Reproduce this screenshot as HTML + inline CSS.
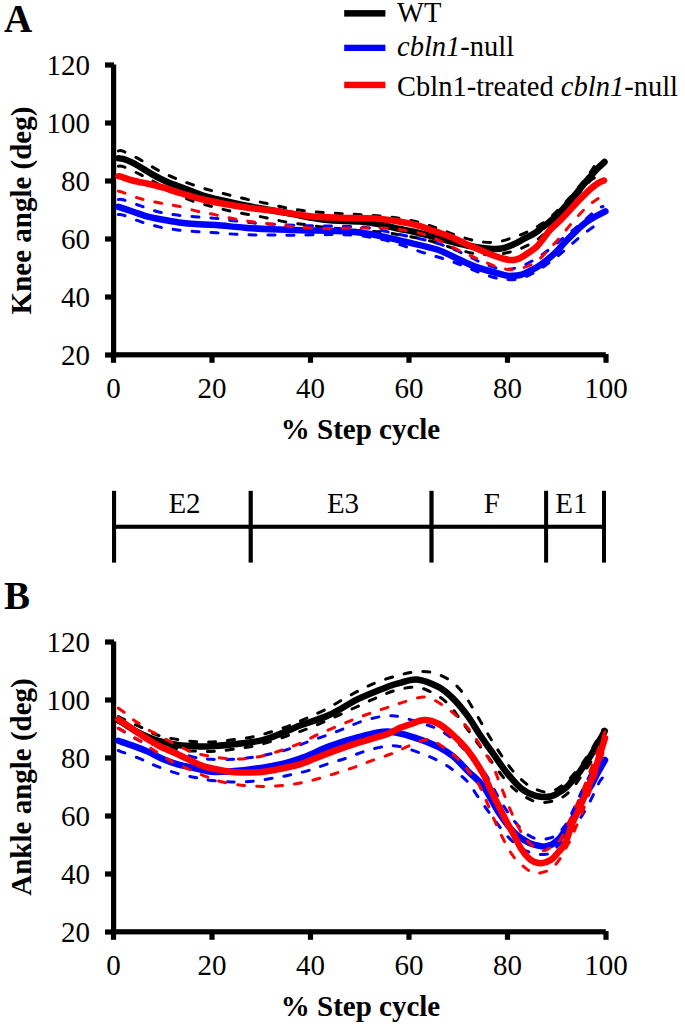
<!DOCTYPE html>
<html><head><meta charset="utf-8"><style>
html,body{margin:0;padding:0;background:#fff;}
svg{display:block;}
.t{font-family:"Liberation Serif",serif;font-size:29px;fill:#000;}
.b{font-family:"Liberation Serif",serif;font-size:29px;font-weight:bold;fill:#000;}
.L{font-family:"Liberation Serif",serif;font-size:39px;font-weight:bold;fill:#000;}
.lg{font-family:"Liberation Serif",serif;font-size:28.5px;fill:#000;}
</style></head><body>
<svg width="685" height="1026" viewBox="0 0 685 1026">
<rect width="685" height="1026" fill="#fff"/>
<text x="4" y="31.8" class="L">A</text>
<text x="4" y="608.9" class="L">B</text>
<!-- legend -->
<rect x="344.2" y="10.1" width="41.2" height="6.5" fill="#000"/>
<rect x="344.2" y="44.7" width="41.2" height="6.3" fill="#00f"/>
<rect x="344.2" y="81.7" width="41.2" height="6.5" fill="#f00"/>
<text x="397" y="21.9" class="lg">WT</text>
<text x="397" y="55.8" class="lg"><tspan font-style="italic">cbln1</tspan>-null</text>
<text x="397" y="95.5" class="lg">Cbln1-treated <tspan font-style="italic">cbln1</tspan>-null</text>
<rect x="111" y="64.5" width="5.2" height="292.8" fill="#000"/>
<rect x="111" y="352.2" width="494.79999999999995" height="5.2" fill="#000"/>
<rect x="105" y="62.4" width="9" height="5.2" fill="#000"/>
<rect x="105" y="120.4" width="9" height="5.2" fill="#000"/>
<rect x="105" y="178.4" width="9" height="5.2" fill="#000"/>
<rect x="105" y="236.4" width="9" height="5.2" fill="#000"/>
<rect x="105" y="294.4" width="9" height="5.2" fill="#000"/>
<rect x="105" y="352.4" width="9" height="5.2" fill="#000"/>
<rect x="110.9" y="354" width="5.2" height="8.800000000000011" fill="#000"/>
<rect x="209.4" y="354" width="5.2" height="8.800000000000011" fill="#000"/>
<rect x="307.9" y="354" width="5.2" height="8.800000000000011" fill="#000"/>
<rect x="406.4" y="354" width="5.2" height="8.800000000000011" fill="#000"/>
<rect x="504.9" y="354" width="5.2" height="8.800000000000011" fill="#000"/>
<rect x="603.4" y="354" width="5.2" height="8.800000000000011" fill="#000"/>
<text x="90" y="74.8" text-anchor="end" class="t">120</text>
<text x="90" y="132.8" text-anchor="end" class="t">100</text>
<text x="90" y="190.8" text-anchor="end" class="t">80</text>
<text x="90" y="248.8" text-anchor="end" class="t">60</text>
<text x="90" y="306.8" text-anchor="end" class="t">40</text>
<text x="90" y="364.8" text-anchor="end" class="t">20</text>
<text x="113.5" y="397.6" text-anchor="middle" class="t">0</text>
<text x="212.0" y="397.6" text-anchor="middle" class="t">20</text>
<text x="310.5" y="397.6" text-anchor="middle" class="t">40</text>
<text x="409.0" y="397.6" text-anchor="middle" class="t">60</text>
<text x="507.5" y="397.6" text-anchor="middle" class="t">80</text>
<text x="606.0" y="397.6" text-anchor="middle" class="t">100</text>
<rect x="111" y="641.5" width="5.2" height="292.8" fill="#000"/>
<rect x="111" y="929.2" width="494.79999999999995" height="5.2" fill="#000"/>
<rect x="105" y="639.4" width="9" height="5.2" fill="#000"/>
<rect x="105" y="697.4" width="9" height="5.2" fill="#000"/>
<rect x="105" y="755.4" width="9" height="5.2" fill="#000"/>
<rect x="105" y="813.4" width="9" height="5.2" fill="#000"/>
<rect x="105" y="871.4" width="9" height="5.2" fill="#000"/>
<rect x="105" y="929.4" width="9" height="5.2" fill="#000"/>
<rect x="110.9" y="931" width="5.2" height="8.800000000000011" fill="#000"/>
<rect x="209.4" y="931" width="5.2" height="8.800000000000011" fill="#000"/>
<rect x="307.9" y="931" width="5.2" height="8.800000000000011" fill="#000"/>
<rect x="406.4" y="931" width="5.2" height="8.800000000000011" fill="#000"/>
<rect x="504.9" y="931" width="5.2" height="8.800000000000011" fill="#000"/>
<rect x="603.4" y="931" width="5.2" height="8.800000000000011" fill="#000"/>
<text x="90" y="651.8" text-anchor="end" class="t">120</text>
<text x="90" y="709.8" text-anchor="end" class="t">100</text>
<text x="90" y="767.8" text-anchor="end" class="t">80</text>
<text x="90" y="825.8" text-anchor="end" class="t">60</text>
<text x="90" y="883.8" text-anchor="end" class="t">40</text>
<text x="90" y="941.8" text-anchor="end" class="t">20</text>
<text x="113.5" y="974.6" text-anchor="middle" class="t">0</text>
<text x="212.0" y="974.6" text-anchor="middle" class="t">20</text>
<text x="310.5" y="974.6" text-anchor="middle" class="t">40</text>
<text x="409.0" y="974.6" text-anchor="middle" class="t">60</text>
<text x="507.5" y="974.6" text-anchor="middle" class="t">80</text>
<text x="606.0" y="974.6" text-anchor="middle" class="t">100</text>
<text class="b" transform="translate(30.7,210.5) rotate(-90)" text-anchor="middle">Knee angle (deg)</text>
<text class="b" transform="translate(30.7,787) rotate(-90)" text-anchor="middle">Ankle angle (deg)</text>
<text class="b" x="360.5" y="439" text-anchor="middle">% Step cycle</text>
<text class="b" x="360.5" y="1016" text-anchor="middle">% Step cycle</text>
<!-- phase bar -->
<rect x="112" y="524.7" width="494" height="4.1" fill="#000"/>
<rect x="112" y="490.8" width="4.1" height="71.8" fill="#000"/>
<rect x="248.6" y="490.8" width="4.2" height="71.8" fill="#000"/>
<rect x="429.4" y="490.8" width="4.2" height="71.8" fill="#000"/>
<rect x="544.1" y="490.8" width="4" height="71.8" fill="#000"/>
<rect x="602" y="490.8" width="4" height="71.8" fill="#000"/>
<text x="184.5" y="513.4" text-anchor="middle" class="t">E2</text>
<text x="343" y="513.4" text-anchor="middle" class="t">E3</text>
<text x="491.8" y="513.4" text-anchor="middle" class="t">F</text>
<text x="571.4" y="513.4" text-anchor="middle" class="t">E1</text>
<path d="M118.4,150.9 C119.2,151.0 119.3,149.7 123.0,151.2 C126.7,152.7 134.9,156.8 140.6,159.9 C146.3,163.0 151.4,166.6 157.0,169.6 C162.6,172.6 168.4,175.3 174.3,177.8 C180.2,180.3 186.3,182.6 192.4,184.7 C198.5,186.8 204.7,188.7 210.8,190.4 C216.9,192.1 223.0,193.5 229.2,195.0 C235.4,196.5 241.8,198.2 248.2,199.6 C254.6,201.0 261.3,202.3 267.6,203.7 C273.9,205.1 279.7,206.6 286.0,207.8 C292.3,209.0 299.0,210.1 305.4,210.9 C311.8,211.7 318.0,212.2 324.4,212.7 C330.8,213.2 337.5,213.4 343.8,213.7 C350.1,214.0 356.0,214.3 362.2,214.7 C368.4,215.1 374.8,215.4 381.2,216.1 C387.6,216.8 394.2,217.5 400.7,218.6 C407.2,219.7 413.9,221.0 420.1,222.7 C426.3,224.4 432.0,226.5 438.1,228.6 C444.2,230.7 450.3,233.3 456.5,235.3 C462.7,237.3 469.1,239.6 475.4,240.8 C481.7,242.0 488.0,243.0 494.3,242.4 C500.6,241.8 507.2,239.5 513.3,237.5 C519.4,235.5 525.1,233.1 530.7,230.2 C536.3,227.3 541.8,224.1 547.0,220.1 C552.2,216.1 557.3,210.8 562.0,206.0 C566.7,201.2 571.1,196.1 575.4,191.0 C579.7,185.9 584.3,180.4 588.0,175.5 C591.7,170.6 595.2,164.6 597.4,161.7 C599.6,158.8 600.4,158.6 601.0,158.0" fill="none" stroke="#000" stroke-width="3" stroke-dasharray="7 12" stroke-linecap="round"/>
<path d="M118.4,166.2 C119.2,166.3 119.5,165.2 123.2,166.6 C126.9,168.0 135.0,171.9 140.6,174.7 C146.2,177.5 151.4,180.4 157.0,183.4 C162.6,186.4 168.3,189.6 174.0,192.5 C179.7,195.4 185.3,198.3 191.4,200.6 C197.5,202.9 204.5,204.5 210.8,206.2 C217.1,207.9 223.0,209.4 229.2,210.8 C235.4,212.2 241.8,213.3 248.2,214.5 C254.6,215.7 261.3,216.7 267.6,218.0 C273.9,219.3 279.7,221.0 286.0,222.1 C292.3,223.2 299.3,223.8 305.4,224.6 C311.5,225.4 316.1,226.3 322.4,227.0 C328.7,227.7 336.2,228.3 343.0,229.0 C349.8,229.7 356.6,230.5 363.2,231.0 C369.8,231.5 376.1,231.2 382.3,231.9 C388.6,232.6 394.4,233.9 400.7,235.0 C407.0,236.1 414.0,237.2 420.1,238.5 C426.2,239.8 431.7,241.4 437.4,243.1 C443.1,244.8 448.1,246.8 454.4,248.5 C460.6,250.2 468.1,252.6 474.9,253.6 C481.7,254.6 488.4,255.0 495.0,254.5 C501.6,254.0 508.1,252.7 514.3,250.8 C520.5,248.9 527.0,245.9 532.1,242.9 C537.2,239.9 540.4,237.5 545.0,233.0 C549.6,228.5 555.0,221.8 560.0,216.0 C565.0,210.2 570.0,203.8 575.0,198.0 C580.0,192.2 586.0,184.8 590.0,181.0 C594.0,177.2 597.0,176.9 599.2,175.4 C601.4,173.9 602.4,172.6 603.0,172.0" fill="none" stroke="#000" stroke-width="3" stroke-dasharray="7 12" stroke-linecap="round"/>
<path d="M118.4,158.2 C119.5,158.4 122.5,158.6 125.1,159.5 C127.7,160.4 131.0,161.9 133.9,163.4 C136.8,164.9 139.8,166.8 142.7,168.6 C145.6,170.3 148.5,172.2 151.4,173.9 C154.3,175.6 157.3,177.2 160.2,178.7 C163.1,180.2 165.4,181.2 169.0,182.7 C172.6,184.2 177.7,185.9 182.0,187.5 C186.3,189.1 191.2,191.1 195.0,192.5 C198.8,193.9 200.8,194.8 205.0,196.0 C209.2,197.2 213.5,198.5 220.0,200.0 C226.5,201.5 237.3,203.8 244.0,205.2 C250.7,206.6 252.3,206.9 260.0,208.3 C267.7,209.7 281.7,212.0 290.0,213.5 C298.3,215.0 303.3,216.4 310.0,217.5 C316.7,218.6 321.7,219.6 330.0,220.3 C338.3,221.0 351.7,220.8 360.0,221.5 C368.3,222.2 373.3,223.2 380.0,224.5 C386.7,225.8 394.2,227.8 400.0,229.0 C405.8,230.2 408.8,230.5 415.0,232.0 C421.2,233.5 430.3,236.1 437.0,237.8 C443.7,239.6 449.5,241.1 455.0,242.5 C460.5,243.9 465.4,245.1 470.0,246.0 C474.6,246.9 478.2,247.5 482.5,248.0 C486.8,248.5 492.1,249.0 495.7,249.0 C499.3,249.0 501.5,248.6 504.4,247.8 C507.3,247.1 510.3,245.8 513.2,244.5 C516.1,243.2 518.3,241.9 521.9,240.0 C525.5,238.1 531.6,235.1 535.0,233.0 C538.4,230.9 539.5,229.4 542.0,227.5 C544.5,225.6 546.5,224.6 550.0,221.5 C553.5,218.4 558.4,214.0 563.0,209.0 C567.6,204.0 573.4,196.8 577.8,191.5 C582.2,186.2 586.1,181.4 589.5,177.5 C592.9,173.6 595.5,170.6 598.0,168.0 C600.5,165.4 603.4,163.0 604.5,162.0" fill="none" stroke="#000" stroke-width="6.5" stroke-linejoin="round" stroke-linecap="round"/>
<path d="M118.4,199.5 C119.2,199.5 119.5,198.7 123.2,199.8 C126.9,200.9 134.6,203.9 140.6,205.9 C146.6,207.9 152.9,210.5 159.0,212.0 C165.1,213.5 171.0,214.3 177.4,215.1 C183.8,215.9 190.9,216.3 197.5,216.9 C204.1,217.5 210.4,217.8 216.9,218.5 C223.4,219.2 229.1,220.2 236.3,221.0 C243.5,221.8 249.4,222.8 260.0,223.5 C270.6,224.2 288.3,225.1 300.0,225.5 C311.7,225.9 320.0,225.8 330.0,226.0 C340.0,226.2 353.0,226.6 360.0,227.0 C367.0,227.4 366.9,227.6 372.0,228.5 C377.1,229.4 384.3,231.1 390.4,232.4 C396.5,233.7 402.7,235.2 408.8,236.5 C414.9,237.8 421.1,238.9 427.2,240.5 C433.3,242.1 439.0,243.7 445.2,246.0 C451.4,248.3 458.5,251.4 464.6,254.2 C470.7,257.0 476.0,260.4 482.0,262.8 C488.0,265.2 494.5,268.0 500.4,268.8 C506.3,269.6 511.7,269.2 517.4,267.7 C523.1,266.1 528.9,262.9 534.7,259.5 C540.5,256.1 546.7,251.4 552.1,247.2 C557.5,243.0 562.6,238.4 567.4,234.5 C572.2,230.6 575.8,227.8 580.7,223.6 C585.6,219.4 593.1,212.4 596.8,209.6 C600.5,206.8 602.0,207.0 603.0,206.5" fill="none" stroke="#00f" stroke-width="3" stroke-dasharray="7 12" stroke-linecap="round"/>
<path d="M118.4,214.6 C119.2,214.7 119.5,213.9 123.2,215.1 C126.9,216.3 134.6,219.7 140.6,221.7 C146.6,223.7 152.9,225.5 159.0,226.9 C165.1,228.3 171.0,229.1 177.4,229.9 C183.8,230.7 190.9,231.2 197.5,231.7 C204.1,232.2 210.4,232.4 216.9,232.8 C223.4,233.2 229.9,234.0 236.3,234.3 C242.7,234.7 248.9,234.8 255.3,234.9 C261.7,235.0 268.2,234.9 274.7,234.9 C281.2,234.9 285.0,235.2 294.2,235.2 C303.4,235.1 320.4,234.6 330.0,234.6 C339.6,234.6 345.0,234.5 352.0,235.0 C359.0,235.5 365.6,236.4 372.0,237.5 C378.4,238.6 384.3,239.9 390.4,241.6 C396.5,243.3 402.7,245.6 408.8,247.7 C414.9,249.8 421.1,252.0 427.2,253.9 C433.3,255.8 439.1,257.3 445.2,259.3 C451.3,261.3 457.6,263.6 463.6,265.9 C469.6,268.2 475.0,271.0 481.0,273.1 C487.0,275.2 493.2,277.7 499.4,278.7 C505.6,279.7 512.3,280.1 518.4,278.9 C524.5,277.7 530.2,274.8 535.8,271.7 C541.4,268.6 547.0,264.3 552.1,260.5 C557.2,256.7 561.5,253.0 566.4,248.8 C571.3,244.6 576.5,239.6 581.8,235.4 C587.0,231.2 594.4,226.0 597.9,223.6 C601.4,221.2 602.1,221.4 603.0,221.0" fill="none" stroke="#00f" stroke-width="3" stroke-dasharray="7 12" stroke-linecap="round"/>
<path d="M118.4,206.8 C120.7,207.6 127.5,209.9 132.4,211.5 C137.3,213.1 142.7,215.2 147.8,216.6 C152.9,218.0 157.5,218.7 163.1,219.7 C168.7,220.7 176.1,222.1 181.5,222.8 C186.9,223.5 189.7,223.7 195.4,224.1 C201.1,224.5 207.7,224.5 215.9,225.1 C224.1,225.7 235.4,227.0 244.5,227.7 C253.6,228.4 261.2,228.9 270.7,229.3 C280.2,229.7 291.4,230.1 301.3,230.3 C311.2,230.6 321.9,230.6 330.0,230.8 C338.1,231.0 343.3,231.0 350.0,231.5 C356.7,232.0 363.8,233.0 370.0,234.0 C376.2,235.0 381.2,236.2 387.0,237.5 C392.8,238.8 396.4,239.6 404.7,241.6 C413.0,243.6 428.6,246.8 437.0,249.5 C445.4,252.2 448.9,254.8 455.4,257.7 C461.9,260.6 467.7,264.0 475.9,266.9 C484.1,269.8 498.5,273.6 504.5,275.1 C510.5,276.6 509.4,275.7 512.0,275.7 C514.6,275.7 517.4,275.8 520.4,275.0 C523.4,274.2 526.6,272.5 530.0,270.8 C533.4,269.1 536.5,267.8 540.9,264.6 C545.3,261.4 551.7,256.1 556.2,251.8 C560.7,247.5 563.7,243.3 568.0,239.0 C572.3,234.7 577.7,229.2 581.8,225.7 C585.9,222.2 588.6,220.6 592.5,218.2 C596.4,215.8 603.2,212.5 605.4,211.3" fill="none" stroke="#00f" stroke-width="6.5" stroke-linejoin="round" stroke-linecap="round"/>
<path d="M118.4,191.1 C119.0,191.3 118.5,190.8 122.2,192.1 C125.9,193.4 134.5,197.0 140.6,198.8 C146.7,200.6 152.9,201.6 159.0,202.8 C165.1,204.0 171.0,204.6 177.4,206.0 C183.8,207.4 191.1,209.8 197.5,211.3 C203.9,212.8 209.6,213.6 215.9,214.9 C222.2,216.2 228.9,217.8 235.3,219.0 C241.7,220.2 247.9,221.2 254.3,222.1 C260.7,223.0 267.4,223.4 273.7,224.2 C280.0,224.9 286.1,226.0 292.1,226.6 C298.2,227.2 303.6,227.6 310.0,227.9 C316.4,228.2 323.8,228.7 330.5,228.7 C337.2,228.7 343.7,228.2 350.0,228.1 C356.3,228.0 362.0,227.9 368.4,227.9 C374.8,227.9 381.8,227.8 388.4,228.3 C395.0,228.8 401.5,229.8 407.8,230.9 C414.1,232.0 420.5,233.2 426.2,235.0 C431.9,236.8 436.5,239.2 442.2,241.9 C447.9,244.6 454.4,248.2 460.5,251.1 C466.6,254.0 472.8,256.7 478.9,259.3 C485.0,261.9 491.4,265.2 497.3,266.9 C503.2,268.6 508.1,270.3 514.3,269.7 C520.5,269.1 528.7,266.2 534.3,263.0 C539.9,259.8 543.4,254.8 547.8,250.4 C552.2,246.0 556.4,241.5 560.5,236.8 C564.6,232.1 568.0,227.3 572.5,222.3 C577.0,217.3 582.3,211.0 587.2,206.7 C592.1,202.3 598.8,198.1 601.8,196.2 C604.8,194.3 604.5,195.6 605.0,195.5" fill="none" stroke="#f00" stroke-width="3" stroke-dasharray="7 12" stroke-linecap="round"/>
<path d="M118.4,176.2 C118.8,176.3 119.2,176.0 121.0,176.6 C122.8,177.2 126.6,178.7 129.5,179.6 C132.4,180.5 135.4,181.2 138.3,181.8 C141.2,182.5 144.1,182.8 147.0,183.5 C149.9,184.2 152.9,185.0 155.8,185.7 C158.7,186.4 162.0,187.1 164.6,187.9 C167.2,188.7 168.8,189.4 171.6,190.3 C174.4,191.2 175.9,191.9 181.5,193.5 C187.1,195.1 194.5,197.7 205.0,200.0 C215.5,202.3 232.8,205.4 244.5,207.2 C256.2,209.0 264.1,209.5 275.0,211.0 C285.9,212.5 299.2,215.1 310.0,216.2 C320.8,217.3 329.2,217.4 340.0,217.8 C350.8,218.2 364.2,217.8 375.0,218.6 C385.8,219.4 397.2,221.3 404.7,222.5 C412.2,223.7 415.8,224.8 420.0,226.0 C424.2,227.2 426.7,228.6 430.0,229.8 C433.3,231.0 436.7,231.9 440.0,233.0 C443.3,234.1 446.6,235.3 449.9,236.6 C453.2,237.9 456.6,239.5 460.0,241.0 C463.4,242.5 466.2,244.1 470.0,245.8 C473.8,247.5 478.2,249.3 482.5,251.0 C486.8,252.7 492.0,254.9 495.7,256.2 C499.4,257.5 502.1,258.4 504.5,259.0 C506.9,259.6 508.2,259.9 510.0,260.0 C511.8,260.1 513.5,260.0 515.3,259.6 C517.0,259.2 518.4,258.9 520.5,257.8 C522.6,256.7 525.4,254.9 528.1,253.0 C530.8,251.1 534.0,249.4 536.9,246.5 C539.8,243.6 543.5,238.2 545.7,235.5 C547.9,232.8 547.1,233.0 550.0,230.0 C552.9,227.0 558.4,222.2 563.0,217.5 C567.6,212.8 573.4,206.1 577.8,201.5 C582.2,196.9 586.1,192.9 589.5,189.8 C592.9,186.7 595.9,184.6 598.3,183.0 C600.7,181.4 603.0,180.9 604.0,180.5" fill="none" stroke="#f00" stroke-width="6.5" stroke-linejoin="round" stroke-linecap="round"/>
<path d="M118.4,716.5 C119.8,717.2 122.8,718.7 126.5,720.5 C130.2,722.3 135.7,724.8 140.8,727.2 C145.9,729.6 151.2,732.9 157.3,735.0 C163.5,737.1 170.9,738.5 177.7,739.6 C184.5,740.7 191.8,741.4 198.1,741.8 C204.3,742.2 209.2,742.2 215.2,741.8 C221.2,741.4 227.9,740.5 234.2,739.6 C240.5,738.8 246.9,738.0 253.2,736.7 C259.5,735.4 265.9,733.6 272.2,731.6 C278.5,729.6 285.2,727.3 291.1,725.0 C297.0,722.7 301.4,720.5 307.3,717.9 C313.2,715.2 320.2,712.3 326.3,709.1 C332.4,705.9 338.0,702.2 343.8,698.9 C349.6,695.6 355.7,692.2 361.3,689.4 C366.9,686.6 371.3,684.4 377.4,682.1 C383.5,679.8 391.6,677.2 397.9,675.5 C404.2,673.8 409.5,672.4 415.4,671.9 C421.2,671.4 427.1,671.1 433.0,672.6 C438.9,674.1 445.4,677.2 450.5,680.7 C455.6,684.2 459.7,688.9 463.6,693.8 C467.5,698.7 470.4,704.3 473.8,709.9 C477.2,715.5 480.8,722.0 484.0,727.4 C487.2,732.8 489.3,736.5 492.8,742.0 C496.3,747.5 501.1,755.2 505.1,760.7 C509.1,766.2 512.4,770.9 516.8,775.3 C521.2,779.7 526.0,784.2 531.4,787.0 C536.8,789.8 543.4,792.8 549.0,792.1 C554.6,791.4 560.2,786.9 565.0,783.0 C569.8,779.1 573.8,774.2 578.0,769.0 C582.2,763.8 586.7,757.1 590.0,752.0 C593.3,746.9 595.8,742.2 598.0,738.5 C600.2,734.8 602.2,731.0 603.0,729.5" fill="none" stroke="#000" stroke-width="3" stroke-dasharray="7 12" stroke-linecap="round"/>
<path d="M118.4,722.0 C121.2,723.2 128.9,726.7 135.0,729.5 C141.1,732.3 147.9,735.8 155.0,739.0 C162.1,742.2 170.5,747.0 177.7,749.0 C184.9,751.0 191.8,750.8 198.1,751.2 C204.3,751.6 209.2,751.6 215.2,751.3 C221.2,750.9 227.9,750.0 234.2,749.1 C240.5,748.2 246.9,747.5 253.2,746.2 C259.5,744.9 265.9,743.1 272.2,741.1 C278.5,739.1 285.2,736.5 291.1,734.5 C297.0,732.5 301.4,731.1 307.3,728.8 C313.2,726.5 320.2,723.5 326.3,720.8 C332.4,718.1 338.0,715.5 343.8,712.8 C349.6,710.1 355.5,707.4 361.3,704.7 C367.1,702.0 373.0,699.1 378.8,696.7 C384.6,694.3 390.0,691.7 396.4,690.1 C402.8,688.5 410.6,686.6 416.9,687.2 C423.2,687.8 429.0,690.9 434.4,693.8 C439.8,696.7 444.6,700.3 449.0,704.7 C453.4,709.1 456.8,714.9 460.7,720.1 C464.6,725.3 468.3,730.5 472.4,736.1 C476.5,741.7 479.8,746.1 485.5,753.6 C491.2,761.1 500.6,774.4 506.5,781.2 C512.5,788.0 515.8,790.8 521.2,794.3 C526.6,797.8 532.6,801.5 538.7,802.4 C544.8,803.2 552.5,801.3 557.7,799.4 C562.9,797.5 566.0,795.1 570.0,791.0 C574.0,786.9 578.0,780.7 582.0,775.0 C586.0,769.3 590.7,762.4 594.0,757.0 C597.3,751.6 600.2,745.8 602.0,742.5 C603.8,739.2 604.5,737.9 605.0,737.0" fill="none" stroke="#000" stroke-width="3" stroke-dasharray="7 12" stroke-linecap="round"/>
<path d="M118.4,720.5 C119.7,721.2 122.4,722.8 126.0,725.0 C129.6,727.2 135.0,731.0 140.0,733.5 C145.0,736.0 149.5,738.1 155.8,740.0 C162.1,741.9 170.4,743.9 177.7,745.0 C185.0,746.1 194.0,746.2 199.6,746.4 C205.2,746.6 205.5,746.6 211.3,746.2 C217.1,745.9 225.5,745.3 234.2,744.3 C242.9,743.2 253.7,742.5 263.4,739.9 C273.1,737.3 286.5,731.1 292.6,728.7 C298.7,726.3 293.9,727.8 300.0,725.5 C306.1,723.2 319.5,719.4 329.2,715.0 C338.9,710.6 348.7,703.6 358.4,698.9 C368.1,694.2 380.8,689.4 387.6,686.8 C394.4,684.2 394.4,684.3 399.3,683.1 C404.2,681.9 410.3,678.8 416.9,679.5 C423.5,680.2 432.7,684.0 438.8,687.2 C444.9,690.4 448.5,694.0 453.4,698.9 C458.3,703.8 463.6,710.4 468.0,716.4 C472.4,722.4 476.0,729.1 480.0,735.0 C484.0,740.9 487.5,745.7 491.9,751.9 C496.3,758.1 501.6,766.3 506.5,772.4 C511.4,778.5 516.3,784.6 521.2,788.5 C526.1,792.4 530.9,794.5 535.8,795.8 C540.7,797.1 546.3,797.2 550.4,796.5 C554.5,795.8 557.9,793.0 560.6,791.4 C563.3,789.8 564.8,788.7 566.7,787.0 C568.6,785.3 570.0,783.2 572.0,781.0 C574.0,778.8 576.4,776.2 578.4,773.6 C580.4,771.0 582.0,768.3 584.0,765.5 C586.0,762.7 588.1,759.8 590.1,756.6 C592.1,753.4 594.0,749.9 596.0,746.5 C598.0,743.1 600.3,739.1 601.8,736.5 C603.3,733.9 604.3,731.9 604.8,731.0" fill="none" stroke="#000" stroke-width="6.5" stroke-linejoin="round" stroke-linecap="round"/>
<path d="M118.4,728.4 C119.2,728.9 119.6,729.1 123.0,731.1 C126.4,733.1 132.8,737.7 139.0,740.3 C145.2,742.9 150.9,743.7 160.0,746.5 C169.1,749.3 185.2,755.0 193.8,757.1 C202.4,759.2 204.6,758.9 211.3,759.3 C218.0,759.7 227.2,759.6 234.2,759.3 C241.2,758.9 246.9,758.2 253.2,757.2 C259.5,756.2 265.9,755.0 272.2,753.5 C278.5,752.0 285.2,750.3 291.1,748.4 C297.0,746.5 301.4,744.2 307.3,742.0 C313.2,739.8 320.2,737.6 326.3,735.4 C332.4,733.2 338.0,731.1 343.8,728.8 C349.6,726.5 355.2,723.5 361.3,721.5 C367.4,719.5 375.5,717.6 380.3,716.6 C385.1,715.6 386.8,715.8 390.0,715.8 C393.2,715.8 394.7,715.5 399.4,716.6 C404.1,717.7 412.1,720.3 418.4,722.3 C424.7,724.3 431.2,725.8 437.3,728.8 C443.4,731.8 449.5,736.1 454.9,740.5 C460.3,744.9 464.4,749.5 469.5,755.1 C474.6,760.7 480.6,766.8 485.5,774.1 C490.4,781.4 494.5,791.0 499.2,798.7 C503.9,806.5 509.0,814.5 513.9,820.6 C518.8,826.7 524.3,832.2 528.5,835.3 C532.7,838.4 535.8,838.6 539.0,839.1 C542.2,839.6 545.1,839.2 548.0,838.5 C550.9,837.8 553.8,837.0 556.5,835.1 C559.2,833.2 562.0,829.5 564.0,827.0 C566.0,824.5 566.2,824.1 568.2,820.3 C570.2,816.5 573.8,808.9 576.1,804.0 C578.4,799.1 579.7,795.8 582.0,791.0 C584.3,786.2 587.5,779.8 590.0,775.0 C592.5,770.2 594.8,765.8 597.0,762.0 C599.2,758.2 602.0,753.7 603.0,752.0" fill="none" stroke="#00f" stroke-width="3" stroke-dasharray="7 12" stroke-linecap="round"/>
<path d="M118.4,750.5 C119.2,750.8 119.3,750.9 123.0,752.3 C126.7,753.7 135.0,756.6 140.5,758.9 C146.0,761.1 149.9,763.4 155.8,765.8 C161.8,768.2 169.6,771.1 176.2,773.1 C182.8,775.1 189.3,776.3 195.2,777.5 C201.0,778.7 204.8,779.6 211.3,780.4 C217.8,781.1 227.2,781.9 234.2,782.0 C241.2,782.1 246.9,781.8 253.2,781.2 C259.5,780.6 265.9,779.4 272.2,778.3 C278.5,777.2 285.0,776.0 291.1,774.7 C297.2,773.4 302.7,772.2 308.8,770.4 C314.9,768.6 321.4,766.0 327.7,763.9 C334.0,761.8 340.6,760.1 346.7,758.0 C352.8,755.9 358.1,753.4 364.2,751.5 C370.3,749.6 377.3,747.6 383.2,746.8 C389.1,745.9 393.3,745.4 399.4,746.4 C405.5,747.4 413.2,750.5 419.8,752.9 C426.4,755.3 433.0,758.0 438.8,761.0 C444.6,764.0 450.0,767.7 454.9,771.2 C459.8,774.7 464.3,778.0 468.0,782.1 C471.7,786.2 473.3,790.1 477.3,795.8 C481.3,801.5 487.0,809.7 491.9,816.3 C496.8,822.9 501.6,829.9 506.5,835.3 C511.4,840.6 516.6,845.4 521.2,848.4 C525.8,851.4 530.4,852.4 533.9,853.4 C537.4,854.4 539.2,854.6 542.0,854.5 C544.8,854.4 546.9,855.0 550.4,852.6 C553.9,850.2 558.6,844.9 563.0,840.0 C567.4,835.1 572.8,828.7 576.8,823.2 C580.8,817.7 584.0,812.5 587.2,806.9 C590.4,801.2 593.8,793.6 595.9,789.3 C598.0,785.0 598.4,783.5 600.0,781.0 C601.6,778.5 604.6,775.2 605.5,774.0" fill="none" stroke="#00f" stroke-width="3" stroke-dasharray="7 12" stroke-linecap="round"/>
<path d="M118.4,740.8 C121.0,741.7 128.9,744.3 133.9,746.1 C138.9,747.9 143.9,749.8 148.5,751.9 C153.1,754.0 156.7,756.4 161.6,758.5 C166.5,760.6 171.4,762.6 177.7,764.4 C184.0,766.2 194.0,768.0 199.6,769.2 C205.2,770.4 205.5,771.5 211.3,771.8 C217.1,772.1 227.2,771.5 234.2,771.0 C241.1,770.5 245.4,770.1 253.0,769.0 C260.6,767.9 271.4,766.5 280.0,764.5 C288.6,762.5 296.1,760.0 304.3,757.0 C312.5,754.0 320.2,749.7 329.2,746.4 C338.2,743.1 348.7,739.7 358.4,737.2 C368.1,734.7 377.9,731.3 387.6,731.5 C397.4,731.7 408.4,735.7 416.9,738.3 C425.4,740.9 432.7,744.0 438.8,747.1 C444.9,750.2 448.5,752.6 453.4,756.6 C458.3,760.6 463.0,766.2 468.0,771.2 C473.0,776.2 478.3,779.5 483.5,786.5 C488.7,793.5 494.1,805.7 499.2,813.3 C504.3,820.9 509.0,827.4 513.9,832.3 C518.8,837.2 523.8,840.2 528.5,842.6 C533.2,845.0 538.8,845.8 541.9,846.4 C545.0,847.0 545.2,846.4 547.0,846.0 C548.8,845.6 550.6,845.3 552.8,843.9 C555.0,842.5 558.1,840.0 560.1,837.7 C562.1,835.4 563.3,832.5 565.0,830.0 C566.7,827.5 568.7,825.8 570.5,823.0 C572.3,820.2 574.2,816.5 576.0,813.0 C577.8,809.5 579.8,805.3 581.5,802.0 C583.2,798.7 584.3,795.8 586.0,793.0 C587.7,790.2 589.8,787.8 591.5,785.0 C593.2,782.2 594.5,778.8 596.0,776.0 C597.5,773.2 599.0,770.7 600.5,768.0 C602.0,765.3 604.2,761.3 605.0,760.0" fill="none" stroke="#00f" stroke-width="6.5" stroke-linejoin="round" stroke-linecap="round"/>
<path d="M118.4,708.2 C119.7,709.1 123.3,711.6 125.9,713.6 C128.5,715.6 131.4,718.3 133.9,720.2 C136.4,722.1 138.5,723.1 141.2,724.9 C143.9,726.7 147.3,729.2 150.0,730.8 C152.7,732.4 153.4,732.3 157.3,734.4 C161.2,736.5 167.2,740.2 173.3,743.3 C179.4,746.3 187.5,750.5 193.8,752.7 C200.1,754.9 205.8,755.4 211.3,756.4 C216.8,757.4 221.1,758.2 226.9,758.6 C232.7,759.0 239.8,759.1 245.9,758.6 C252.0,758.1 257.3,757.2 263.4,755.7 C269.5,754.2 276.3,752.0 282.4,749.9 C288.5,747.8 294.0,745.8 299.9,743.3 C305.8,740.8 311.4,737.5 317.5,734.7 C323.6,731.9 330.4,729.2 336.5,726.6 C342.6,724.0 348.2,721.6 354.0,719.3 C359.8,717.0 365.6,714.9 371.5,712.8 C377.4,710.7 383.2,708.8 389.1,706.9 C395.0,705.0 400.6,702.8 406.7,701.1 C412.8,699.5 419.6,696.3 425.7,697.0 C431.8,697.7 437.8,702.1 443.2,705.5 C448.6,708.9 453.2,712.8 457.8,717.2 C462.4,721.6 466.8,726.5 470.9,731.8 C475.0,737.1 479.0,743.3 482.6,749.0 C486.2,754.7 489.9,760.3 492.8,766.0 C495.7,771.7 497.5,777.6 499.8,783.4 C502.1,789.2 504.4,795.1 506.8,801.0 C509.2,806.9 511.6,813.2 514.3,819.0 C517.0,824.8 520.6,831.4 523.2,835.5 C525.8,839.6 527.7,841.2 530.0,843.5 C532.3,845.8 534.7,848.1 537.2,849.3 C539.7,850.5 542.3,851.2 545.0,850.5 C547.7,849.8 551.5,846.5 553.6,845.3 C555.7,844.0 556.1,844.7 557.7,843.0 C559.3,841.3 561.3,838.2 563.0,835.0 C564.7,831.8 566.2,828.0 568.0,824.0 C569.8,820.0 572.0,815.5 574.0,811.0 C576.0,806.5 578.0,801.8 580.0,797.0 C582.0,792.2 584.0,787.2 586.0,782.0 C588.0,776.8 590.0,771.3 592.0,766.0 C594.0,760.7 596.2,754.8 598.0,750.0 C599.8,745.2 601.8,740.0 603.0,737.0 C604.2,734.0 604.7,732.8 605.0,732.0" fill="none" stroke="#f00" stroke-width="3" stroke-dasharray="7 12" stroke-linecap="round"/>
<path d="M118.4,728.3 C119.2,728.7 119.7,728.9 123.0,730.8 C126.3,732.7 133.1,736.6 138.3,739.9 C143.5,743.2 149.0,747.0 154.3,750.5 C159.7,754.0 164.8,757.7 170.4,760.7 C176.0,763.8 181.8,766.1 187.9,768.8 C194.0,771.5 201.1,774.6 206.9,776.8 C212.7,779.0 216.2,780.5 222.5,782.0 C228.8,783.5 237.6,784.9 244.4,785.6 C251.2,786.3 257.1,786.4 263.4,786.4 C269.7,786.4 276.1,786.2 282.4,785.6 C288.7,785.0 295.3,783.9 301.4,782.7 C307.5,781.5 312.9,780.2 319.0,778.5 C325.1,776.8 331.9,774.6 338.0,772.6 C344.1,770.6 349.7,768.9 355.5,766.8 C361.3,764.7 366.9,762.4 373.0,760.2 C379.1,758.0 385.9,756.0 392.0,753.6 C398.1,751.2 403.5,748.0 409.6,745.6 C415.7,743.2 423.0,739.2 428.6,739.5 C434.2,739.8 438.3,743.9 443.2,747.1 C448.1,750.3 453.2,754.3 457.8,758.8 C462.4,763.3 467.0,769.1 470.9,774.1 C474.8,779.1 476.4,779.5 481.1,789.0 C485.8,798.5 493.7,819.5 499.2,830.9 C504.7,842.3 509.0,850.6 513.9,857.2 C518.8,863.8 525.5,867.8 528.5,870.4 C531.5,873.0 530.1,872.3 532.0,872.7 C533.9,873.1 537.1,873.5 540.0,873.0 C542.9,872.5 546.9,871.3 549.6,869.8 C552.3,868.3 553.9,866.4 556.0,864.0 C558.1,861.6 560.2,858.5 562.0,855.5 C563.8,852.5 565.4,848.9 567.0,846.0 C568.6,843.1 569.9,841.4 571.4,838.2 C572.9,835.0 574.2,831.2 576.0,827.0 C577.8,822.8 580.0,818.0 582.0,813.0 C584.0,808.0 586.0,802.5 588.0,797.0 C590.0,791.5 592.0,785.8 594.0,780.0 C596.0,774.2 598.3,767.0 600.0,762.0 C601.7,757.0 603.3,752.0 604.0,750.0" fill="none" stroke="#f00" stroke-width="3" stroke-dasharray="7 12" stroke-linecap="round"/>
<path d="M118.4,719.5 C119.7,720.3 123.4,722.8 126.0,724.5 C128.6,726.2 130.1,727.4 133.9,730.0 C137.7,732.6 145.3,737.8 149.0,740.1 C152.7,742.4 153.7,742.8 155.8,744.0 C157.9,745.2 157.9,745.6 161.6,747.3 C165.2,749.0 171.4,751.3 177.7,754.2 C184.0,757.1 194.0,762.4 199.6,764.7 C205.2,767.0 205.5,767.0 211.3,768.2 C217.1,769.5 225.5,771.6 234.2,772.2 C242.9,772.8 253.7,772.7 263.4,771.7 C273.1,770.7 285.8,767.7 292.6,766.2 C299.4,764.7 298.2,765.0 304.3,762.8 C310.4,760.6 320.2,756.2 329.2,752.9 C338.2,749.5 348.7,745.9 358.4,742.7 C368.1,739.5 380.8,736.3 387.6,733.9 C394.4,731.5 395.6,729.7 399.3,728.1 C403.0,726.5 405.5,725.8 409.6,724.5 C413.8,723.2 419.3,720.2 424.2,720.1 C429.1,720.0 433.9,721.5 438.8,724.0 C443.7,726.5 448.5,730.9 453.4,735.4 C458.3,739.9 463.1,744.4 468.0,750.7 C472.9,757.0 478.8,766.4 482.6,773.0 C486.4,779.6 488.2,784.8 491.0,790.5 C493.8,796.2 496.7,802.0 499.2,807.0 C501.7,812.0 503.6,815.8 506.0,820.5 C508.4,825.2 511.4,830.3 513.9,835.0 C516.4,839.7 518.6,844.7 521.0,848.5 C523.4,852.3 526.3,855.8 528.5,858.0 C530.7,860.2 532.0,860.9 534.0,861.8 C536.0,862.7 538.2,863.2 540.3,863.2 C542.4,863.2 544.4,862.8 546.5,862.0 C548.6,861.2 550.9,860.1 552.8,858.5 C554.7,856.9 556.2,854.6 558.0,852.5 C559.8,850.4 562.1,848.4 563.6,846.0 C565.1,843.6 565.9,841.7 567.3,838.0 C568.7,834.3 570.4,828.0 572.0,824.0 C573.6,820.0 575.1,817.5 576.7,814.0 C578.3,810.5 580.1,806.6 581.6,803.0 C583.1,799.4 584.5,796.2 586.0,792.5 C587.5,788.8 589.2,784.8 590.7,781.0 C592.2,777.2 593.6,773.5 595.0,769.5 C596.4,765.5 597.8,760.9 599.0,757.0 C600.2,753.1 601.5,749.2 602.5,746.0 C603.5,742.8 604.6,739.3 605.0,738.0" fill="none" stroke="#f00" stroke-width="6.5" stroke-linejoin="round" stroke-linecap="round"/>
</svg>
</body></html>
